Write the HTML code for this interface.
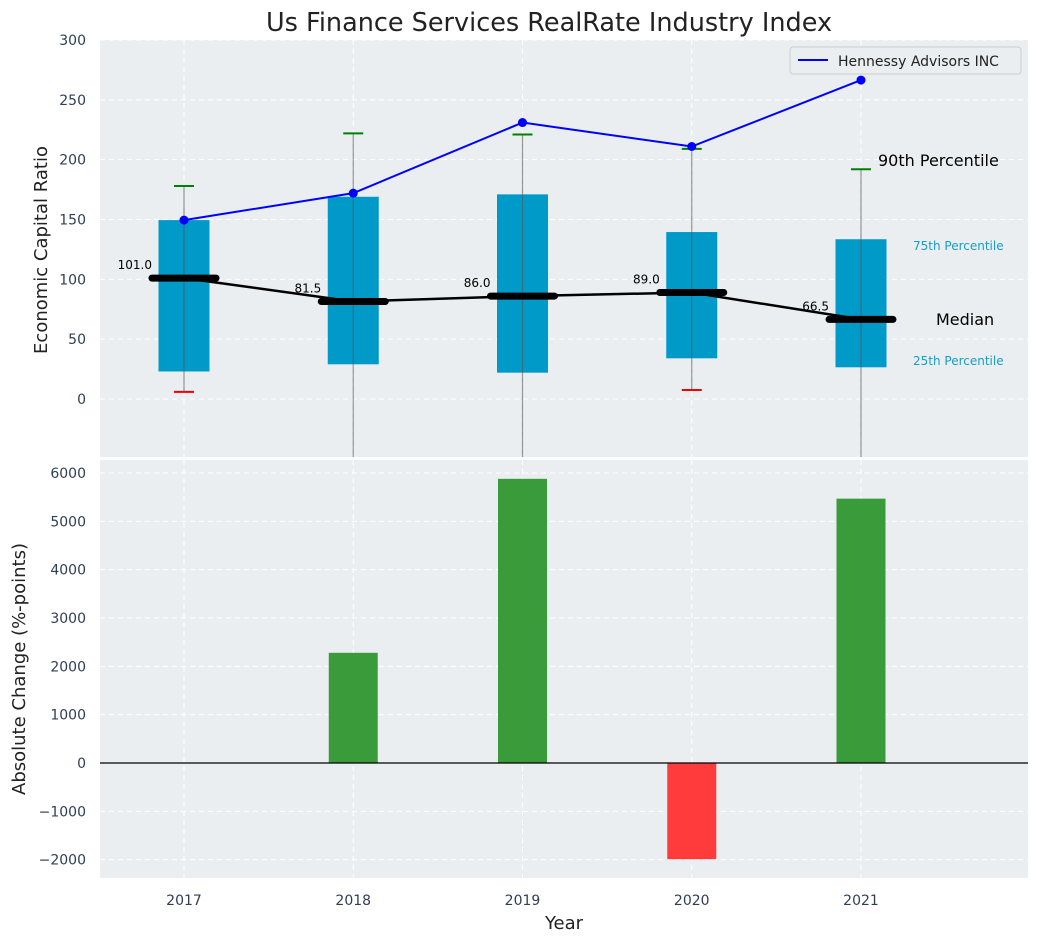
<!DOCTYPE html>
<html><head><meta charset="utf-8"><style>
body{margin:0;background:#fff;}
svg{display:block;font-family:"DejaVu Sans","Liberation Sans",sans-serif;}
</style></head><body>
<svg id="chart" width="1039" height="942" xmlns="http://www.w3.org/2000/svg">
<text x="549" y="31" font-size="25.5" text-anchor="middle" fill="#222">Us Finance Services RealRate Industry Index</text>
<rect x="100" y="40" width="928" height="417" fill="#eaeef0"/>
<rect x="100" y="460" width="928" height="418" fill="#eaeef0"/>
<g id="topg"></g><g id="botg"></g>
<text transform="translate(47,250) rotate(-90)" font-size="18" text-anchor="middle" fill="#222">Economic Capital Ratio</text>
<text transform="translate(25,669) rotate(-90)" font-size="18" text-anchor="middle" fill="#222">Absolute Change (%-points)</text>
<text x="564" y="929" font-size="18" text-anchor="middle" fill="#222">Year</text>
<g>
<rect x="790" y="47" width="231" height="27" rx="3" fill="#eaeef0" stroke="#ccc"/>
<line x1="798" y1="60" x2="828" y2="60" stroke="#0000ff" stroke-width="2"/>
<text x="838" y="66" font-size="14" fill="#222">Hennessy Advisors INC</text>
</g>
<text x="878" y="166" font-size="16" fill="#000">90th Percentile</text>
<text x="913" y="250" font-size="12" fill="#1a9cc9">75th Percentile</text>
<text x="936" y="325" font-size="16" fill="#000">Median</text>
<text x="913" y="365" font-size="12" fill="#1a9cc9">25th Percentile</text>
</svg>
<script>
const years=[2017,2018,2019,2020,2021];
const p10=[6,-100,-100,7.5,-100];
const p25=[23,29,22,34,26.5];
const p50=[101,81.5,86,89,66.5];
const p75=[149.5,169,171,139.5,133.5];
const p90=[178,222,221,209,192];
const company=[149.5,172,231,211,266.5];
const changes=[0,2280,5880,-1990,5470];
const topTicks=[0,50,100,150,200,250,300];
const botTicks=[-2000,-1000,0,1000,2000,3000,4000,5000,6000];
const NS="http://www.w3.org/2000/svg";
const X=v=>184+(v-2017)*169.25;
const YT=v=>399-v*1.1967;
const YB=v=>763-v*0.04833;
function mk(p,t,a){const e=document.createElementNS(NS,t);for(const k in a)e.setAttribute(k,a[k]);p.appendChild(e);return e;}
const svgEl=document.getElementById('chart');
const tg=document.getElementById('topg'),bg=document.getElementById('botg');
const defs=mk(svgEl,'defs',{});
const c1=mk(defs,'clipPath',{id:'c1'});mk(c1,'rect',{x:100,y:40,width:928,height:417});
tg.setAttribute('clip-path','url(#c1)');
years.forEach(y=>{
 let g=mk(tg,'line',{x1:X(y),x2:X(y),y1:40,y2:457,stroke:'#fff','stroke-dasharray':'5,4'});
 
 let g2=mk(bg,'line',{x1:X(y),x2:X(y),y1:460,y2:878,stroke:'#fff','stroke-dasharray':'5,4'});
 
 let t=mk(svgEl,'text',{x:X(y),y:905,'font-size':14,'text-anchor':'middle',fill:'#2e3f55'});t.textContent=y;
 
});
topTicks.forEach(v=>{
 let g=mk(tg,'line',{x1:100,x2:1028,y1:YT(v),y2:YT(v),stroke:'#fff','stroke-dasharray':'5,4'});
 
 let t=mk(svgEl,'text',{x:86,y:YT(v)+5,'font-size':14,'text-anchor':'end',fill:'#2e3f55'});t.textContent=v;
 
});
botTicks.forEach(v=>{
 let g=mk(bg,'line',{x1:100,x2:1028,y1:YB(v),y2:YB(v),stroke:'#fff','stroke-dasharray':'5,4'});
 
 let t=mk(svgEl,'text',{x:86,y:YB(v)+5,'font-size':14,'text-anchor':'end',fill:'#2e3f55'});t.textContent=v<0?'\u2212'+(-v):v;
 
});
years.forEach((y,i)=>{
 let b=mk(tg,'rect',{x:X(y)-25.5,y:YT(p75[i]),width:51,height:YT(p25[i])-YT(p75[i]),fill:'#009ac9'});
 
 let w=mk(tg,'line',{x1:X(y),x2:X(y),y1:YT(p90[i]),y2:YT(p10[i]),stroke:'#555','stroke-opacity':0.6,'stroke-width':1.2});
 
 let h=mk(tg,'line',{x1:X(y)-10,x2:X(y)+10,y1:YT(p90[i]),y2:YT(p90[i]),stroke:'#008000','stroke-width':2});
 
 let l=mk(tg,'line',{x1:X(y)-10,x2:X(y)+10,y1:YT(p10[i]),y2:YT(p10[i]),stroke:'#e00','stroke-width':2});
 
});
let mp=mk(tg,'polyline',{points:years.map((y,i)=>X(y)+','+YT(p50[i])).join(' '),fill:'none',stroke:'#000','stroke-width':2.5});

years.forEach((y,i)=>{
 let m=mk(tg,'line',{x1:X(y)-32,x2:X(y)+32,y1:YT(p50[i]),y2:YT(p50[i]),stroke:'#000','stroke-width':7,'stroke-linecap':'round'});
 
 let t=mk(tg,'text',{x:X(y)-32,y:YT(p50[i])-9,'font-size':12,'text-anchor':'end',fill:'#000'});t.textContent=p50[i].toFixed(1);
 
});
let cl=mk(tg,'polyline',{points:years.map((y,i)=>X(y)+','+YT(company[i])).join(' '),fill:'none',stroke:'#0000ff','stroke-width':2});

years.forEach((y,i)=>{
 let d=mk(tg,'circle',{cx:X(y),cy:YT(company[i]),r:4.5,fill:'#0000ff'});
 
});
years.forEach((y,i)=>{
 const v=changes[i];if(!v)return;
 let b=mk(bg,'rect',{x:X(y)-24.5,y:Math.min(YB(v),YB(0)),width:49,height:Math.abs(YB(v)-YB(0)),fill:v>=0?'#3a9b3a':'#ff3b3b'});
 
});
let z=mk(bg,'line',{x1:100,x2:1028,y1:YB(0),y2:YB(0),stroke:'#000','stroke-width':1.2});

</script>
</body></html>
